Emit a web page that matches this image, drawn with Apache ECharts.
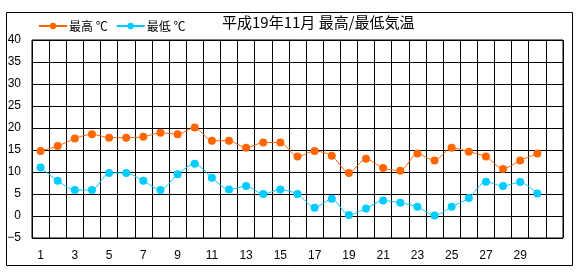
<!DOCTYPE html>
<html>
<head>
<meta charset="utf-8">
<script src="https://cdn.jsdelivr.net/npm/echarts@6/dist/echarts.min.js"></script>
<style>
html,body{margin:0;padding:0;background:#fff;}
#c{width:580px;height:280px;}
</style>
</head>
<body>
<div id="c"></div>
<script>
const titleText = '平成19年11月 最高/最低気温';
const days = ['1','2','3','4','5','6','7','8','9','10','11','12','13','14','15','16','17','18','19','20','21','22','23','24','25','26','27','28','29','30',''];
const maxTemp = [14.8,15.9,17.6,18.6,17.8,17.8,18.0,18.9,18.6,20.1,17.1,17.1,15.5,16.7,16.7,13.5,14.8,13.7,9.8,13.0,10.9,10.3,14.2,12.6,15.5,14.6,13.5,10.7,12.6,14.2];
const minTemp = [11.0,8.0,5.9,5.9,9.8,9.8,8.0,5.9,9.5,11.9,8.7,6.0,6.8,5.0,6.0,5.0,1.9,3.9,0.2,1.7,3.5,3.0,2.1,0.1,2.1,4.1,7.8,6.8,7.7,5.1];
const seriesNames = ['最高 ℃','最低 ℃'];
const yMin = -5, yMax = 40, yStep = 5;

const font = '"Noto Sans CJK JP", sans-serif';
const chart = echarts.init(document.getElementById('c'), null, {renderer:'canvas'});
chart.setOption({
  animation:false,
  backgroundColor:'#fff',
  title:{text:titleText,left:222,top:15,padding:0,textStyle:{fontSize:15,fontWeight:'normal',color:'#000',fontFamily:font}},
  legend:{left:38,top:20,padding:0,itemWidth:28,itemHeight:8,itemGap:8,
    textStyle:{fontSize:12,color:'#000',fontFamily:font,padding:[0,0,0,-3]},
    data:seriesNames},
  graphic:[{type:'rect',shape:{x:6.5,y:12.5,width:566,height:253},style:{fill:'none',stroke:'#000',lineWidth:1},z:-1}],
  grid:{left:32,top:40,right:17,bottom:42,show:true,borderColor:'#000',borderWidth:1},
  xAxis:{type:'category',data:days,boundaryGap:true,
    axisLine:{show:false},axisTick:{show:false,interval:0},
    axisLabel:{interval:1,margin:12,fontSize:12,color:'#000',fontFamily:'"Liberation Sans", sans-serif'},
    splitLine:{show:true,interval:0,lineStyle:{color:'#000',width:1}}},
  yAxis:{type:'value',min:yMin,max:yMax,interval:yStep,
    axisLine:{show:false},axisTick:{show:false},
    axisLabel:{margin:11,fontSize:12,color:'#000',fontFamily:'"Liberation Sans", sans-serif',
      formatter:v=>String(v).replace('-','−')},
    splitLine:{show:true,lineStyle:{color:'#000',width:1}}},
  series:[
    {name:seriesNames[0],type:'line',data:maxTemp,smooth:0.25,symbol:'circle',symbolSize:8,
     itemStyle:{color:'#FF6600'},lineStyle:{color:'#FF6600',width:1}},
    {name:seriesNames[1],type:'line',data:minTemp,smooth:0.25,symbol:'circle',symbolSize:8,
     itemStyle:{color:'#00CCFF'},lineStyle:{color:'#00CCFF',width:1}}
  ]
});
</script>
</body>
</html>
